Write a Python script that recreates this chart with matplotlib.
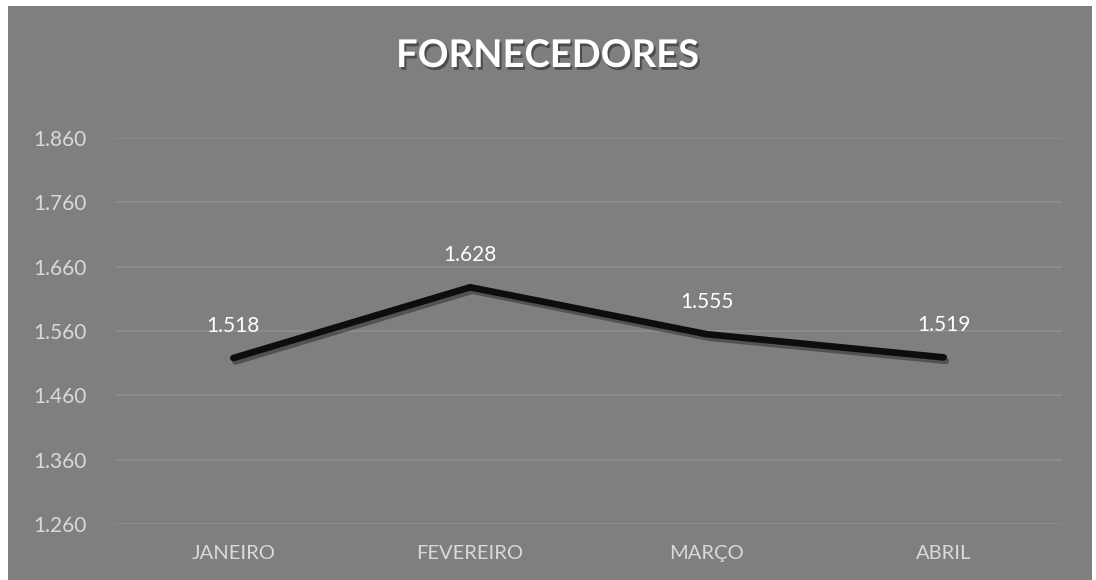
import matplotlib.pyplot as plt
import matplotlib.patheffects as pe
from matplotlib.patches import Rectangle

# dados
meses = ["JANEIRO", "FEVEREIRO", "MARÇO", "ABRIL"]
fornecedores = [1518, 1628, 1555, 1519]
y_ticks = [1260, 1360, 1460, 1560, 1660, 1760, 1860]

plt.rcParams['font.family'] = ['Lato', 'DejaVu Sans']

bg = "#7f7f7f"
fig = plt.figure(figsize=(10.96, 5.8), dpi=100, facecolor="white")
# fundo cinza do gráfico
fig.patches.append(Rectangle((8 / 1096, 0), 1084 / 1096, 574 / 580,
                             transform=fig.transFigure, facecolor=bg,
                             edgecolor="none", zorder=-10))

ax = fig.add_axes([115 / 1096, 56 / 580, 947 / 1096, 386 / 580])
ax.patch.set_alpha(0)

x = list(range(len(meses)))
ax.plot(x, fornecedores, color="#0d0d0d", linewidth=4.8, solid_capstyle="round",
        solid_joinstyle="round", zorder=3,
        path_effects=[pe.SimpleLineShadow(offset=(1.5, -2.5), shadow_color="black", alpha=0.35),
                      pe.Normal()])

for xi, v in zip(x, fornecedores):
    ax.annotate(f"{v:,}".replace(",", "."), (xi, v), xytext=(0, 23),
                textcoords="offset points", ha="center", va="center",
                color="white", fontsize=15)

ax.set_xlim(-0.5, len(meses) - 0.5)
ax.set_ylim(y_ticks[0], y_ticks[-1])
ax.set_xticks(x)
ax.set_xticklabels(meses, fontsize=14.5)
ax.set_yticks(y_ticks)
ax.set_yticklabels([f"{t:,}".replace(",", ".") for t in y_ticks], fontsize=15)
ax.tick_params(axis="both", length=0, colors="#d9d9d9")
ax.tick_params(axis="y", pad=59)
ax.tick_params(axis="x", pad=15)
for lbl in ax.get_yticklabels():
    lbl.set_horizontalalignment("left")
ax.grid(axis="y", color="#8e8e8e", linewidth=1.2)
ax.set_axisbelow(True)
for s in ax.spines.values():
    s.set_visible(False)

fig.text(0.5, 1 - 56 / 580, "FORNECEDORES", ha="center", va="center",
         color="white", fontsize=27.5, fontweight="bold",
         path_effects=[pe.withSimplePatchShadow(offset=(1.5, -2), shadow_rgbFace="black", alpha=0.4)])

fig.savefig("out.png", dpi=100, facecolor="white")
